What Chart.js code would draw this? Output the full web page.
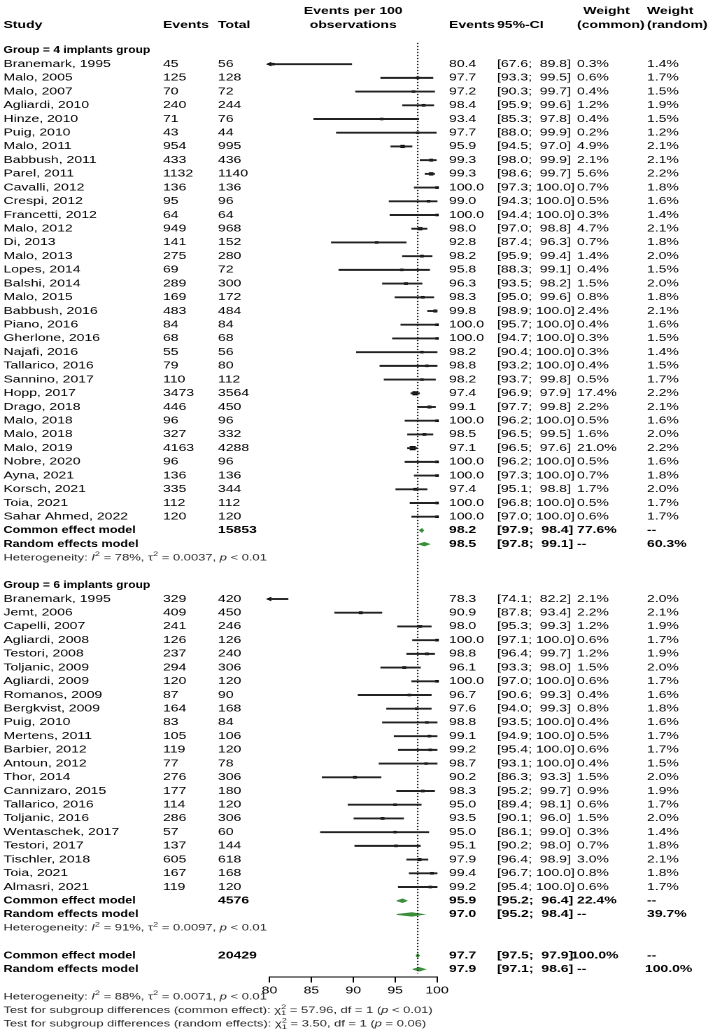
<!DOCTYPE html>
<html>
<head>
<meta charset="utf-8">
<script src="https://cdn.jsdelivr.net/npm/chart.js@4.4.1/dist/chart.umd.min.js"></script>
<style>
  html, body { margin: 0; padding: 0; background: #fff; overflow: hidden; }
  /* the reference is a horizontally stretched image, so stretch the whole canvas */
  #wrap { width: 506px; height: 1035px; transform: scaleX(1.3992); transform-origin: 0 0; }
</style>
</head>
<body>
<div id="wrap"><canvas id="forest"></canvas></div>
<script>
// ---------- data: group = 4 implants ----------
const g1Study = ['Branemark, 1995','Malo, 2005','Malo, 2007','Agliardi, 2010','Hinze, 2010','Puig, 2010','Malo, 2011','Babbush, 2011','Parel, 2011','Cavalli, 2012','Crespi, 2012','Francetti, 2012','Malo, 2012','Di, 2013','Malo, 2013','Lopes, 2014','Balshi, 2014','Malo, 2015','Babbush, 2016','Piano, 2016','Gherlone, 2016','Najafi, 2016','Tallarico, 2016','Sannino, 2017','Hopp, 2017','Drago, 2018','Malo, 2018','Malo, 2018','Malo, 2019','Nobre, 2020','Ayna, 2021','Korsch, 2021','Toia, 2021','Sahar Ahmed, 2022'];
const g1Events = [45,125,70,240,71,43,954,433,1132,136,95,64,949,141,275,69,289,169,483,84,68,55,79,110,3473,446,96,327,4163,96,136,335,112,120];
const g1Total = [56,128,72,244,76,44,995,436,1140,136,96,64,968,152,280,72,300,172,484,84,68,56,80,112,3564,450,96,332,4288,96,136,344,112,120];
const g1Est = [80.4,97.7,97.2,98.4,93.4,97.7,95.9,99.3,99.3,100.0,99.0,100.0,98.0,92.8,98.2,95.8,96.3,98.3,99.8,100.0,100.0,98.2,98.8,98.2,97.4,99.1,100.0,98.5,97.1,100.0,100.0,97.4,100.0,100.0];
const g1Lower = [67.6,93.3,90.3,95.9,85.3,88.0,94.5,98.0,98.6,97.3,94.3,94.4,97.0,87.4,95.9,88.3,93.5,95.0,98.9,95.7,94.7,90.4,93.2,93.7,96.9,97.7,96.2,96.5,96.5,96.2,97.3,95.1,96.8,97.0];
const g1Upper = [89.8,99.5,99.7,99.6,97.8,99.9,97.0,99.9,99.7,100.0,100.0,100.0,98.8,96.3,99.4,99.1,98.2,99.6,100.0,100.0,100.0,100.0,100.0,99.8,97.9,99.8,100.0,99.5,97.6,100.0,100.0,98.8,100.0,100.0];
const g1WCommon = [0.3,0.6,0.4,1.2,0.4,0.2,4.9,2.1,5.6,0.7,0.5,0.3,4.7,0.7,1.4,0.4,1.5,0.8,2.4,0.4,0.3,0.3,0.4,0.5,17.4,2.2,0.5,1.6,21.0,0.5,0.7,1.7,0.5,0.6];
const g1WRandom = [1.4,1.7,1.5,1.9,1.5,1.2,2.1,2.1,2.2,1.8,1.6,1.4,2.1,1.8,2.0,1.5,2.0,1.8,2.1,1.6,1.5,1.4,1.5,1.7,2.2,2.1,1.6,2.0,2.2,1.6,1.8,2.0,1.7,1.7];

// ---------- data: group = 6 implants ----------
const g2Study = ['Branemark, 1995','Jemt, 2006','Capelli, 2007','Agliardi, 2008','Testori, 2008','Toljanic, 2009','Agliardi, 2009','Romanos, 2009','Bergkvist, 2009','Puig, 2010','Mertens, 2011','Barbier, 2012','Antoun, 2012','Thor, 2014','Cannizaro, 2015','Tallarico, 2016','Toljanic, 2016','Wentaschek, 2017','Testori, 2017','Tischler, 2018','Toia, 2021','Almasri, 2021'];
const g2Events = [329,409,241,126,237,294,120,87,164,83,105,119,77,276,177,114,286,57,137,605,167,119];
const g2Total = [420,450,246,126,240,306,120,90,168,84,106,120,78,306,180,120,306,60,144,618,168,120];
const g2Est = [78.3,90.9,98.0,100.0,98.8,96.1,100.0,96.7,97.6,98.8,99.1,99.2,98.7,90.2,98.3,95.0,93.5,95.0,95.1,97.9,99.4,99.2];
const g2Lower = [74.1,87.8,95.3,97.1,96.4,93.3,97.0,90.6,94.0,93.5,94.9,95.4,93.1,86.3,95.2,89.4,90.1,86.1,90.2,96.4,96.7,95.4];
const g2Upper = [82.2,93.4,99.3,100.0,99.7,98.0,100.0,99.3,99.3,100.0,100.0,100.0,100.0,93.3,99.7,98.1,96.0,99.0,98.0,98.9,100.0,100.0];
const g2WCommon = [2.1,2.2,1.2,0.6,1.2,1.5,0.6,0.4,0.8,0.4,0.5,0.6,0.4,1.5,0.9,0.6,1.5,0.3,0.7,3.0,0.8,0.6];
const g2WRandom = [2.0,2.1,1.9,1.7,1.9,2.0,1.7,1.6,1.8,1.6,1.7,1.7,1.5,2.0,1.9,1.7,2.0,1.4,1.8,2.1,1.8,1.7];

// ---------- pooled estimates (g1 common, g1 random, g2 common, g2 random, all common, all random) ----------
const sumLabel = ['Common effect model','Random effects model','Common effect model','Random effects model','Common effect model','Random effects model'];
const sumTotal = [15853, null, 4576, null, 20429, null];
const sumEst = [98.2, 98.5, 95.9, 97.0, 97.7, 97.9];
const sumLower = [97.9, 97.8, 95.2, 95.2, 97.5, 97.1];
const sumUpper = [98.4, 99.1, 96.4, 98.4, 97.9, 98.6];
const sumWCommon = ['77.6%','--','22.4%','--','100.0%','--'];
const sumWRandom = ['--','60.3%','--','39.7%','--','100.0%'];

const groupLabels = ['Group = 4 implants group', 'Group = 6 implants group'];
const hetText = [
  ['78%', '0.0037', '< 0.01'],
  ['91%', '0.0097', '< 0.01'],
  ['88%', '0.0071', '< 0.01']
];
const subgroupTests = [
  ['common effect', '57.96', '< 0.01'],
  ['random effects', '3.50', '= 0.06']
];
const xTicks = [80, 85, 90, 95, 100];
const refLine = 97.7;

// ---------- row layout ----------
const FONT = '"Liberation Sans", Arial, Helvetica, sans-serif';
const X_MIN = 80, X_MAX = 100;
const Y_MIN = -3.386, Y_MAX = 71.5;   // one unit = one text line
const AXIS_ROW = 67.56;
const SMALL = 9.25;

const rows = [];
let r = 0;
function addGroup(gi, study, ev, tot, est, lo, hi, wc, wr) {
  rows.push({ kind: 'group', row: r++, label: groupLabels[gi] });
  study.forEach((s, i) => rows.push({ kind: 'study', row: r++, label: s, ev: ev[i], tot: tot[i],
    est: est[i], lo: lo[i], hi: hi[i], wc: wc[i], wr: wr[i] }));
  for (const k of [gi * 2, gi * 2 + 1]) rows.push({ kind: 'sum', row: r++, s: k });
  rows.push({ kind: 'het', row: r++, h: gi });
  r++;
}
addGroup(0, g1Study, g1Events, g1Total, g1Est, g1Lower, g1Upper, g1WCommon, g1WRandom);
addGroup(1, g2Study, g2Events, g2Total, g2Est, g2Lower, g2Upper, g2WCommon, g2WRandom);
rows.push({ kind: 'sum', row: r++, s: 4 });
rows.push({ kind: 'sum', row: r++, s: 5 });
r++;
rows.push({ kind: 'het', row: r++, h: 2 });
rows.push({ kind: 'test', row: r++, t: 0 });
rows.push({ kind: 'test', row: r++, t: 1 });

const studyRows = rows.filter(d => d.kind === 'study');
const sumRows = rows.filter(d => d.kind === 'sum');

// ---------- datasets ----------
const ciBars = studyRows.map(d => ({ y: d.row, x: [Math.max(d.lo, X_MIN), Math.min(d.hi, X_MAX)] }));
const estPoints = studyRows.filter(d => d.est >= X_MIN).map(d => ({ x: d.est, y: d.row }));
const estSizes = studyRows.filter(d => d.est >= X_MIN).map(d => 1.6 + 0.3 * Math.sqrt(d.wc));
const arrows = studyRows.filter(d => d.lo < X_MIN).map(d => ({ x: X_MIN, y: d.row }));

const DH = 0.13;
const diamonds = sumRows.map(d => ({
  type: 'scatter', showLine: true, clip: false,
  data: [
    { x: sumLower[d.s], y: d.row }, { x: sumEst[d.s], y: d.row - DH },
    { x: sumUpper[d.s], y: d.row }, { x: sumEst[d.s], y: d.row + DH },
    { x: sumLower[d.s], y: d.row }
  ],
  borderColor: '#3b8f3b', backgroundColor: '#3b8f3b', borderWidth: 0.8,
  fill: 'shape', pointRadius: 0, tension: 0
}));

const lastRow = sumRows[sumRows.length - 1].row;

// ---------- text columns (canvas px, before the stretch) ----------
const COL = { study: 2.5, events: 116.5, total: 155.8, est: 320.9, ci: 355.2, wc: 412.4, wr: 462.4 };

function fmtCI(lo, hi) {
  return '[' + lo.toFixed(1) + ';' + (hi < 100 ? '  ' : ' ') + hi.toFixed(1) + ']';
}

// sx: extra horizontal squeeze for the narrower bold labels of the reference
function put(ctx, s, x, y, bold, size, color, align, sx) {
  ctx.save();
  ctx.translate(x, y);
  if (sx) ctx.scale(sx, 1);
  ctx.font = (bold ? 'bold ' : '') + (size || 10) + 'px ' + FONT;
  ctx.fillStyle = color || '#000';
  ctx.textAlign = align || 'left';
  ctx.textBaseline = 'middle';
  ctx.fillText(s, 0, 0);
  ctx.restore();
}

// rich text: parts of {t, it} or {sup, sub}
function putRich(ctx, parts, x, y, size, color) {
  ctx.fillStyle = color;
  ctx.textAlign = 'left';
  ctx.textBaseline = 'middle';
  let cx = x;
  parts.forEach(p => {
    if (p.sup !== undefined || p.sub !== undefined) {
      ctx.font = (size * 0.72) + 'px ' + FONT;
      let w = 0;
      if (p.sup !== undefined) { ctx.fillText(p.sup, cx, y - size * 0.38); w = ctx.measureText(p.sup).width; }
      if (p.sub !== undefined) { ctx.fillText(p.sub, cx, y + size * 0.32); w = Math.max(w, ctx.measureText(p.sub).width); }
      cx += w;
    } else {
      ctx.font = (p.it ? 'italic ' : '') + size + 'px ' + FONT;
      ctx.fillText(p.t, cx, y);
      cx += ctx.measureText(p.t).width;
    }
  });
}

const textPlugin = {
  id: 'forestText',
  afterDraw(chart) {
    const ctx = chart.ctx;
    const ys = chart.scales.y;
    const ca = chart.chartArea;
    const mid = (ca.left + ca.right) / 2;
    ctx.save();

    // header
    const h1 = ys.getPixelForValue(-2.84), h2 = ys.getPixelForValue(-1.84);
    put(ctx, 'Study', COL.study, h2, true);
    put(ctx, 'Events', COL.events, h2, true);
    put(ctx, 'Total', COL.total, h2, true);
    put(ctx, 'Events per 100', mid, h1, true, 10, '#000', 'center');
    put(ctx, 'observations', mid, h2, true, 10, '#000', 'center');
    put(ctx, 'Events', COL.est, h2, true);
    put(ctx, '95%-CI', COL.ci, h2, true);
    put(ctx, 'Weight', COL.wc + 4.5, h1, true);
    put(ctx, '(common)', COL.wc, h2, true);
    put(ctx, 'Weight', COL.wr, h1, true);
    put(ctx, '(random)', COL.wr, h2, true);

    rows.forEach(d => {
      const y = ys.getPixelForValue(d.row);
      if (d.kind === 'group') {
        put(ctx, d.label, COL.study, y, true, 10, '#000', 'left', 0.86);
      } else if (d.kind === 'study') {
        put(ctx, d.label, COL.study, y);
        put(ctx, String(d.ev), COL.events, y);
        put(ctx, String(d.tot), COL.total, y);
        put(ctx, d.est.toFixed(1), COL.est, y);
        put(ctx, fmtCI(d.lo, d.hi), COL.ci, y);
        put(ctx, d.wc.toFixed(1) + '%', COL.wc, y);
        put(ctx, d.wr.toFixed(1) + '%', COL.wr, y);
      } else if (d.kind === 'sum') {
        const s = d.s;
        put(ctx, sumLabel[s], COL.study, y, true, 10, '#000', 'left', 0.9);
        if (sumTotal[s] !== null) put(ctx, String(sumTotal[s]), COL.total, y, true);
        put(ctx, sumEst[s].toFixed(1), COL.est, y, true);
        put(ctx, fmtCI(sumLower[s], sumUpper[s]), COL.ci, y, true);
        put(ctx, sumWCommon[s], COL.wc - (sumWCommon[s].length > 5 ? 4.3 : 0), y, true);
        put(ctx, sumWRandom[s], COL.wr - (sumWRandom[s].length > 5 ? 1.5 : 0), y, true);
      } else if (d.kind === 'het') {
        const h = hetText[d.h];
        putRich(ctx, [
          { t: 'Heterogeneity: ' }, { t: 'I', it: true }, { sup: '2' },
          { t: ' = ' + h[0] + ', \u03c4' }, { sup: '2' },
          { t: ' = ' + h[1] + ', ' }, { t: 'p', it: true }, { t: ' ' + h[2] }
        ], COL.study, y, SMALL, '#2a2a2a');
      } else if (d.kind === 'test') {
        const t = subgroupTests[d.t];
        putRich(ctx, [
          { t: 'Test for subgroup differences (' + t[0] + '): \u03c7' }, { sup: '2', sub: '1' },
          { t: ' = ' + t[1] + ', df = 1 (' }, { t: 'p', it: true }, { t: ' ' + t[2] + ')' }
        ], COL.study, y, SMALL, '#2a2a2a');
      }
    });
    ctx.restore();
  }
};

new Chart(document.getElementById('forest'), {
  type: 'scatter',
  data: {
    datasets: [
      {
        type: 'scatter', showLine: true, clip: false,
        data: [{ x: refLine, y: -0.55 }, { x: refLine, y: lastRow + 0.3 }],
        borderColor: '#222', borderWidth: 1.1, borderDash: [1.2, 1.8], pointRadius: 0
      },
      {
        type: 'bar', indexAxis: 'y', clip: false,
        data: ciBars, backgroundColor: '#222', borderWidth: 0, barThickness: 1.25
      },
      {
        type: 'scatter', clip: false, data: estPoints,
        pointStyle: 'rect', pointRadius: estSizes, backgroundColor: '#000', borderWidth: 0
      },
      {
        type: 'scatter', clip: false, data: arrows,
        pointStyle: 'triangle', rotation: -90, pointRadius: 2.6, backgroundColor: '#000', borderWidth: 0
      },
      ...diamonds
    ]
  },
  options: {
    responsive: true,
    maintainAspectRatio: false,
    devicePixelRatio: 2,
    animation: false,
    events: [],
    layout: { padding: { left: 192.6, right: 193.7, top: 0, bottom: 0 } },
    plugins: { legend: { display: false }, tooltip: { enabled: false } },
    scales: {
      x: {
        type: 'linear', min: X_MIN, max: X_MAX, offset: false,
        position: { y: AXIS_ROW },
        afterBuildTicks: sc => { sc.ticks = xTicks.map(v => ({ value: v })); },
        ticks: { font: { family: FONT, size: 10 }, color: '#000', padding: 3 },
        grid: { drawOnChartArea: false, drawTicks: true, tickLength: 5, color: '#000', lineWidth: 1, offset: false },
        border: { display: true, color: '#000', width: 1 }
      },
      // the bar dataset would otherwise switch on offset for this index axis
      y: { type: 'linear', reverse: true, min: Y_MIN, max: Y_MAX, display: false, offset: false, grid: { offset: false } }
    }
  },
  plugins: [textPlugin]
});
</script>
</body>
</html>
